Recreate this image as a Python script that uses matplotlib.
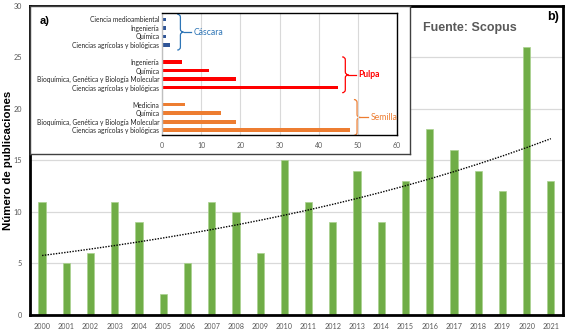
import matplotlib.pyplot as plt
import numpy as np
from matplotlib.path import Path
from matplotlib.patches import PathPatch

# main chart data
years = list(range(2000, 2022))
publications = [11, 5, 6, 11, 9, 2, 5, 11, 10, 6, 15, 11, 9, 14, 9, 13, 18, 16, 14, 12, 26, 13]

# inset data (per fruit part, listed top to bottom)
cascara_labels = ["Ciencia medioambiental", "Ingeniería", "Química",
                  "Ciencias agrícolas y biológicas"]
cascara_values = [1, 1, 1, 2]
pulpa_labels = ["Ingeniería", "Química", "Bioquímica, Genética y Biología Molecular",
                "Ciencias agrícolas y biológicas"]
pulpa_values = [5, 12, 19, 45]
semilla_labels = ["Medicina", "Química", "Bioquímica, Genética y Biología Molecular",
                  "Ciencias agrícolas y biológicas"]
semilla_values = [6, 15, 19, 48]

GREEN = "#70AD47"
GREY_TXT = "#595959"
SMALL = "Lato"


def draw_brace(ax, x, y_top, y_bot, w, color, tail, label, weight="normal"):
    """Right-facing curly brace with a short tail and a label."""
    ym = 0.5 * (y_top + y_bot)
    q = 0.35
    verts = [
        (x, y_top), (x + w / 2, y_top), (x + w / 2, y_top + q),
        (x + w / 2, ym - q),
        (x + w / 2, ym), (x + w, ym),
        (x + w / 2, ym), (x + w / 2, ym + q),
        (x + w / 2, y_bot - q),
        (x + w / 2, y_bot), (x, y_bot),
    ]
    codes = [Path.MOVETO, Path.CURVE3, Path.CURVE3, Path.LINETO,
             Path.CURVE3, Path.CURVE3, Path.CURVE3, Path.CURVE3,
             Path.LINETO, Path.CURVE3, Path.CURVE3]
    ax.add_patch(PathPatch(Path(verts, codes), fc="none", ec=color, lw=0.9,
                           clip_on=False))
    ax.plot([x + w, x + w + tail], [ym, ym], color=color, lw=0.9, clip_on=False)
    ax.text(x + w + tail + 0.6, ym, label, color=color, fontsize=6.2,
            va="center", ha="left", family=SMALL, fontweight=weight)


fig = plt.figure(figsize=(5.67, 3.34), dpi=100)

# ---- main bar chart ----
ax = fig.add_axes([0.0529, 0.057, 0.9400, 0.926])
ax.bar(years, publications, width=0.3, color=GREEN, edgecolor="#A9D18E",
       linewidth=0.5, zorder=2)

# exponential trend line (least squares on log values)
x = np.array(years) - years[0]
b, a = np.polyfit(x, np.log(publications), 1)
ax.plot(years, np.exp(a + b * x), ls=(0, (1, 1)), color="black", lw=1.0, zorder=3)

ax.set_xlim(years[0] - 0.5, years[-1] + 0.5)
ax.set_ylim(0, 30)
ax.set_yticks(range(0, 31, 5))
ax.set_xticks(years)
ax.set_xticklabels([str(y) for y in years])
ax.grid(axis="y", color="#D9D9D9", lw=0.9, zorder=0)
ax.tick_params(length=0, labelsize=5.2, labelcolor=GREY_TXT, pad=6)
for lab in ax.get_xticklabels() + ax.get_yticklabels():
    lab.set_family(SMALL)
for s in ax.spines.values():
    s.set_linewidth(2.0)
    s.set_color("black")
ax.set_ylabel("Número de publicaciones", fontsize=8.2, fontweight="bold",
              family="Liberation Sans")
ax.yaxis.set_label_coords(-0.031, 0.5)

fig.text(0.828, 0.915, "Fuente: Scopus", fontsize=9, fontweight="bold",
         color=GREY_TXT, family="Liberation Sans", ha="center", va="center")
fig.text(0.976, 0.950, "b)", fontsize=9, fontweight="bold",
         family="Liberation Sans", ha="center", va="center")

# ---- inset frame ----
frame = fig.add_axes([0.0529, 0.539, 0.670, 0.444])
frame.set_xticks([])
frame.set_yticks([])
frame.set_facecolor("white")
for s in frame.spines.values():
    s.set_color("#404040")
    s.set_linewidth(1.0)
frame.text(0.025, 0.9, "a)", transform=frame.transAxes, fontsize=8,
           fontweight="bold", family="Liberation Sans", va="center")

# ---- inset bar chart ----
ins = fig.add_axes([0.2857, 0.596, 0.4145, 0.365])
groups = [
    (cascara_labels, cascara_values, "#2F5597", "#2E75B6", "Cáscara", "normal"),
    (pulpa_labels, pulpa_values, "#FF0000", "#FF0000", "Pulpa", "bold"),
    (semilla_labels, semilla_values, "#ED7D31", "#ED7D31", "Semilla", "normal"),
]
brace_x = {"Cáscara": 3.9, "Pulpa": 46.0, "Semilla": 49.0}
tick_pos, tick_lab = [], []
row = 0
for labels, values, bar_c, txt_c, name, weight in groups:
    rows = np.arange(row, row + len(values))
    ins.barh(rows, values, height=0.42, color=bar_c, zorder=2)
    tick_pos += list(rows)
    tick_lab += labels
    draw_brace(ins, brace_x[name], rows[0] - 0.6, rows[-1] + 0.6, 1.6,
               txt_c, 2.0, name, weight)
    row += len(values) + 1

ins.set_ylim(13.55, -0.74)
ins.set_xlim(0, 60)
ins.set_xticks(range(0, 61, 10))
ins.set_yticks(tick_pos)
ins.set_yticklabels(tick_lab)
ins.grid(axis="x", color="#D9D9D9", lw=0.8, zorder=0)
ins.tick_params(length=0, pad=2)
ins.tick_params(axis="y", labelsize=4.8, labelcolor="#262626")
ins.tick_params(axis="x", labelsize=5, labelcolor=GREY_TXT, pad=5)
for lab in ins.get_xticklabels() + ins.get_yticklabels():
    lab.set_family(SMALL)
for s in ins.spines.values():
    s.set_color("black")
    s.set_linewidth(1.0)
ins.spines["left"].set_color("#BFBFBF")

fig.savefig("out.png", dpi=100)
